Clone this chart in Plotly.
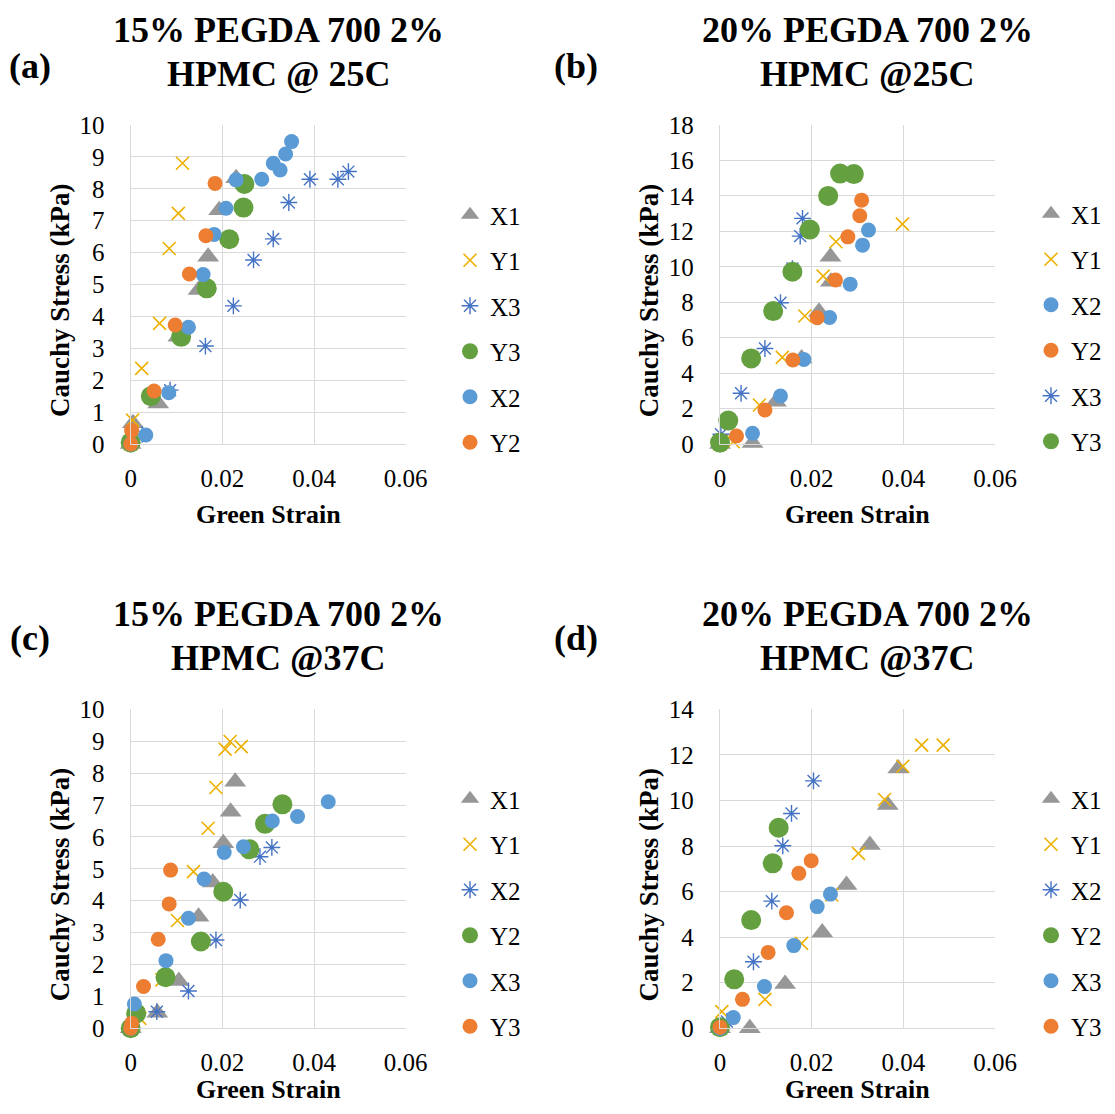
import plotly.graph_objects as go

FONT = "Liberation Serif"
VIEW_W, VIEW_H = 1115, 1114
OFF = 8                      # default page margin of the HTML body
W, H = VIEW_W - 2 * OFF, VIEW_H - 2 * OFF   # keep the page free of scrollbars

# ---------------- data: panel (a) 15% PEGDA @25C ----------------
A_X1_STRAIN = [0, 0.0005, 0.0060, 0.0104, 0.0148, 0.0169, 0.0193, 0.0230]
A_X1_STRESS = [0, 0.65, 1.27, 3.36, 4.83, 5.87, 7.33, 8.33]
A_Y1_STRAIN = [0, 0.0004, 0.0024, 0.0063, 0.0084, 0.0104, 0.0113]
A_Y1_STRESS = [0, 0.75, 2.37, 3.78, 6.13, 7.23, 8.80]
A_X3_STRAIN = [0, 0.0025, 0.0086, 0.0163, 0.0224, 0.0268, 0.0311, 0.0345, 0.0391, 0.0452, 0.0475]
A_X3_STRESS = [0, 0.30, 1.69, 3.07, 4.33, 5.77, 6.43, 7.57, 8.30, 8.30, 8.54]
A_Y3_STRAIN = [0, 0.0044, 0.0110, 0.0166, 0.0215, 0.0246, 0.0248]
A_Y3_STRESS = [0.05, 1.50, 3.36, 4.88, 6.42, 7.41, 8.15]
A_X2_STRAIN = [0, 0.0033, 0.0083, 0.0126, 0.0158, 0.0182, 0.0208, 0.0230, 0.0286, 0.0311, 0.0326, 0.0338, 0.0351]
A_X2_STRESS = [0, 0.28, 1.61, 3.66, 5.31, 6.57, 7.39, 8.28, 8.30, 8.80, 8.59, 9.09, 9.48]
A_Y2_STRAIN = [0, 0.0002, 0.0051, 0.0097, 0.0128, 0.0164, 0.0184]
A_Y2_STRESS = [0, 0.42, 1.66, 3.73, 5.33, 6.53, 8.17]

# ---------------- data: panel (b) 20% PEGDA @25C ----------------
B_X1_STRAIN = [0, 0.0071, 0.0122, 0.0178, 0.0216, 0.0242, 0.0241]
B_X1_STRESS = [0, 0.05, 2.39, 4.83, 7.46, 9.15, 10.56]
B_Y1_STRAIN = [0, 0.0029, 0.0086, 0.0136, 0.0185, 0.0225, 0.0253, 0.0398]
B_Y1_STRESS = [0, 0.13, 2.20, 4.89, 7.22, 9.47, 11.41, 12.41]
B_X2_STRAIN = [0, 0.0071, 0.0132, 0.0183, 0.0239, 0.0284, 0.0311, 0.0324]
B_X2_STRESS = [0, 0.60, 2.71, 4.77, 7.14, 9.02, 11.22, 12.07]
B_Y2_STRAIN = [0, 0.0036, 0.0098, 0.0159, 0.0212, 0.0252, 0.0279, 0.0305, 0.0309]
B_Y2_STRESS = [0, 0.45, 1.92, 4.74, 7.12, 9.25, 11.69, 12.88, 13.76]
B_X3_STRAIN = [0, 0.0002, 0.0046, 0.0098, 0.0132, 0.0158, 0.0175, 0.0180]
B_X3_STRESS = [0, 0.55, 2.86, 5.39, 7.97, 9.90, 11.73, 12.73]
B_Y3_STRAIN = [0, 0.0018, 0.0068, 0.0116, 0.0158, 0.0196, 0.0236, 0.0262, 0.0292]
B_Y3_STRESS = [0.08, 1.32, 4.83, 7.50, 9.72, 12.10, 14.00, 15.26, 15.23]

# ---------------- data: panel (c) 15% PEGDA @37C ----------------
C_X1_STRAIN = [0, 0.0058, 0.0105, 0.0148, 0.0179, 0.0202, 0.0218, 0.0228]
C_X1_STRESS = [0, 0.49, 1.48, 3.50, 4.57, 5.80, 6.79, 7.73]
C_Y1_STRAIN = [0, 0.0020, 0.0068, 0.0102, 0.0137, 0.0169, 0.0186, 0.0206, 0.0217, 0.0241]
C_Y1_STRESS = [0, 0.31, 1.52, 3.38, 4.91, 6.27, 7.55, 8.75, 8.99, 8.83]
C_X2_STRAIN = [0, 0.0057, 0.0126, 0.0186, 0.0239, 0.0282, 0.0308]
C_X2_STRESS = [0, 0.52, 1.17, 2.77, 4.02, 5.38, 5.67]
C_Y2_STRAIN = [0, 0.0012, 0.0076, 0.0153, 0.0202, 0.0259, 0.0293, 0.0331]
C_Y2_STRESS = [0, 0.47, 1.60, 2.72, 4.28, 5.61, 6.41, 7.02]
C_X3_STRAIN = [0, 0.0008, 0.0077, 0.0126, 0.0160, 0.0204, 0.0246, 0.0309, 0.0364, 0.0431]
C_X3_STRESS = [0, 0.76, 2.12, 3.45, 4.68, 5.51, 5.69, 6.50, 6.64, 7.10]
C_Y3_STRAIN = [0, 0.0002, 0.0028, 0.0060, 0.0084, 0.0087]
C_Y3_STRESS = [0, 0.16, 1.31, 2.79, 3.90, 4.96]

# ---------------- data: panel (d) 20% PEGDA @37C ----------------
D_X1_STRAIN = [0, 0.0065, 0.0142, 0.0223, 0.0276, 0.0327, 0.0366, 0.0389]
D_X1_STRESS = [0, 0.00, 1.94, 4.20, 6.29, 8.04, 9.80, 11.40]
D_Y1_STRAIN = [0, 0.0004, 0.0098, 0.0178, 0.0244, 0.0302, 0.0359, 0.0399, 0.0440, 0.0487]
D_Y1_STRESS = [0, 0.73, 1.27, 3.73, 5.85, 7.68, 10.04, 11.50, 12.43, 12.43]
D_X2_STRAIN = [0, 0.0015, 0.0073, 0.0113, 0.0137, 0.0156, 0.0204]
D_X2_STRESS = [0, 0.30, 2.92, 5.58, 8.01, 9.43, 10.86]
D_Y2_STRAIN = [0, 0.0031, 0.0068, 0.0115, 0.0128]
D_Y2_STRESS = [0.05, 2.15, 4.75, 7.24, 8.80]
D_X3_STRAIN = [0, 0.0029, 0.0097, 0.0161, 0.0212, 0.0241]
D_X3_STRESS = [0, 0.47, 1.83, 3.63, 5.34, 5.89]
D_Y3_STRAIN = [0, 0.0049, 0.0105, 0.0145, 0.0172, 0.0199]
D_Y3_STRESS = [0.05, 1.27, 3.33, 5.07, 6.80, 7.35]

# ---------------- text ----------------
PANEL_LETTERS = ["(a)", "(b)", "(c)", "(d)"]
TITLE_LINE1 = ["15% PEGDA 700 2%", "20% PEGDA 700 2%", "15% PEGDA 700 2%", "20% PEGDA 700 2%"]
TITLE_LINE2 = ["HPMC @ 25C", "HPMC @25C", "HPMC @37C", "HPMC @37C"]
X_TITLE = "Green Strain"
Y_TITLE = "Cauchy Stress (kPa)"
X_TICKS = [0, 0.02, 0.04, 0.06]
X_TICKTEXT = ["0", "0.02", "0.04", "0.06"]
Y_MAX = [10, 18, 10, 14]
Y_STEP = [1, 2, 1, 2]

# ---------------- styles ----------------
STYLE = {
    "tri":    dict(symbol="triangle-up", size=19, color="#979797", lw=0),
    "x":      dict(symbol="x-thin-open", size=13, color="#EDB000", lw=1.6),
    "ast":    dict(symbol="asterisk-open", size=14, color="#4472C4", lw=1.4),
    "green":  dict(symbol="circle", size=20, color="#64A03F", lw=0),
    "blue":   dict(symbol="circle", size=15, color="#5B9BD5", lw=0),
    "orange": dict(symbol="circle", size=15, color="#ED7D31", lw=0),
}

PANELS = [
    [("X1", A_X1_STRAIN, A_X1_STRESS, "tri"), ("Y1", A_Y1_STRAIN, A_Y1_STRESS, "x"),
     ("X3", A_X3_STRAIN, A_X3_STRESS, "ast"), ("Y3", A_Y3_STRAIN, A_Y3_STRESS, "green"),
     ("X2", A_X2_STRAIN, A_X2_STRESS, "blue"), ("Y2", A_Y2_STRAIN, A_Y2_STRESS, "orange")],
    [("X1", B_X1_STRAIN, B_X1_STRESS, "tri"), ("Y1", B_Y1_STRAIN, B_Y1_STRESS, "x"),
     ("X2", B_X2_STRAIN, B_X2_STRESS, "blue"), ("Y2", B_Y2_STRAIN, B_Y2_STRESS, "orange"),
     ("X3", B_X3_STRAIN, B_X3_STRESS, "ast"), ("Y3", B_Y3_STRAIN, B_Y3_STRESS, "green")],
    [("X1", C_X1_STRAIN, C_X1_STRESS, "tri"), ("Y1", C_Y1_STRAIN, C_Y1_STRESS, "x"),
     ("X2", C_X2_STRAIN, C_X2_STRESS, "ast"), ("Y2", C_Y2_STRAIN, C_Y2_STRESS, "green"),
     ("X3", C_X3_STRAIN, C_X3_STRESS, "blue"), ("Y3", C_Y3_STRAIN, C_Y3_STRESS, "orange")],
    [("X1", D_X1_STRAIN, D_X1_STRESS, "tri"), ("Y1", D_Y1_STRAIN, D_Y1_STRESS, "x"),
     ("X2", D_X2_STRAIN, D_X2_STRESS, "ast"), ("Y2", D_Y2_STRAIN, D_Y2_STRESS, "green"),
     ("X3", D_X3_STRAIN, D_X3_STRESS, "blue"), ("Y3", D_Y3_STRAIN, D_Y3_STRESS, "orange")],
]

# plot-area boxes in screen pixels: (left, right, top, bottom)
BOXES = [(130.7, 405.7, 125, 444), (720, 995, 125, 444),
         (130.7, 405.7, 709.3, 1028.3), (720, 995, 709.3, 1028.3)]
# legend: left x (None = right-anchored at page edge), first-item centre y
LEG_POS = [(450, 216), (None, 215), (450, 800), (None, 800)]


def px(x):
    return (x - OFF) / W


def py(y):
    return 1 - (y - OFF) / H


fig = go.Figure()
GRID = "#D9D9D9"
annotations = []

for i, series in enumerate(PANELS):
    n = "" if i == 0 else str(i + 1)
    legname = "legend" if i == 0 else f"legend{i + 1}"
    for name, xs, ys, sk in series:
        st = STYLE[sk]
        fig.add_trace(go.Scatter(
            x=xs, y=ys, mode="markers", name=name,
            xaxis="x" + n, yaxis="y" + n, legend=legname,
            legendgroup=f"p{i}_{name}", cliponaxis=False,
            marker=dict(symbol=st["symbol"], size=st["size"], color=st["color"],
                        line=dict(width=st["lw"], color=st["color"])),
        ))
    l, r, t, b = BOXES[i]
    fig.layout["xaxis" + n] = dict(
        domain=[px(l), px(r)], anchor="y" + n, range=[0, 0.06],
        tickvals=X_TICKS, ticktext=X_TICKTEXT,
        showgrid=True, gridcolor=GRID, gridwidth=1.3,
        showline=True, linecolor=GRID, linewidth=1.3, zeroline=False,
        ticks="outside", ticklen=12, tickcolor="rgba(0,0,0,0)", automargin=False,
        tickfont=dict(family=FONT, size=25, color="black"), fixedrange=True,
    )
    fig.layout["yaxis" + n] = dict(
        domain=[py(b), py(t)], anchor="x" + n, range=[0, Y_MAX[i]],
        tick0=0, dtick=Y_STEP[i],
        showgrid=True, gridcolor=GRID, gridwidth=1.3,
        showline=True, linecolor=GRID, linewidth=1.3, zeroline=False,
        ticks="outside", ticklen=20, tickcolor="rgba(0,0,0,0)", automargin=False,
        tickfont=dict(family=FONT, size=25, color="black"), fixedrange=True,
    )
    lx, ly = LEG_POS[i]
    leg = dict(
        y=py(ly - 24), yanchor="top",
        font=dict(family=FONT, size=25, color="black"),
        tracegroupgap=10, bgcolor="rgba(0,0,0,0)", itemwidth=30,
    )
    if lx is None:
        leg.update(x=1, xanchor="right")
    else:
        leg.update(x=px(lx), xanchor="left")
    fig.layout[legname] = leg

    dy = t - 125
    dx = l - 130.7
    cx_title = 278 + dx
    annotations += [
        dict(text=f"<b>{TITLE_LINE1[i]}</b>", x=px(cx_title), y=py(30 + dy),
             font=dict(size=36)),
        dict(text=f"<b>{TITLE_LINE2[i]}</b>", x=px(cx_title), y=py(74 + dy),
             font=dict(size=36)),
        dict(text=f"<b>{PANEL_LETTERS[i]}</b>", x=px(30 + (545.5 if i % 2 else 0)),
             y=py(66 + (572 if i >= 2 else 0)), font=dict(size=36)),
        dict(text=f"<b>{X_TITLE}</b>", x=px((l + r) / 2), y=py(min(514 + dy, 1089)),
             font=dict(size=26)),
        dict(text=f"<b>{Y_TITLE}</b>", x=px(60 + dx), y=py(300 + dy),
             font=dict(size=27), textangle=-90),
    ]

for a in annotations:
    a.update(xref="paper", yref="paper", showarrow=False,
             xanchor="center", yanchor="middle")
    a["font"].update(family=FONT, color="black")

fig.update_layout(
    width=W, height=H, margin=dict(l=0, r=0, t=0, b=0, autoexpand=False),
    paper_bgcolor="white", plot_bgcolor="white",
    annotations=annotations, showlegend=True,
)

fig.write_html("out.html")
